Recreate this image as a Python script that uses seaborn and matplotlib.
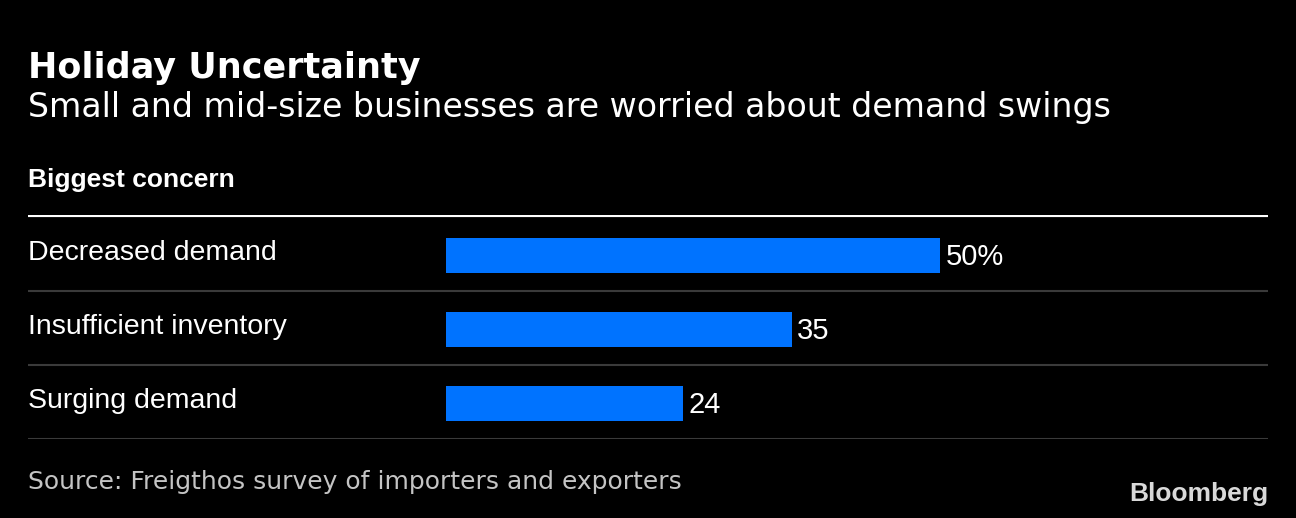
import matplotlib
matplotlib.use("Agg")
import matplotlib.pyplot as plt
import seaborn as sns
import pandas as pd

# data
concerns = ["Decreased demand", "Insufficient inventory", "Surging demand"]
shares = [50, 35, 24]
value_labels = ["50%", "35", "24"]

df = pd.DataFrame({"concern": concerns, "share": shares})

sns.set_theme(style="white")
plt.rcParams["font.family"] = ["Liberation Sans", "DejaVu Sans"]

W, H = 1296, 518
fig = plt.figure(figsize=(W / 100, H / 100), dpi=100, facecolor="black")

def px(x, y):
    return x / W, 1 - y / H

# axes covering the table area: x 28..1268, y 215..439 px
ax = fig.add_axes([28 / W, 1 - 439 / H, 1240 / W, 224 / H])
ax.set_facecolor("black")

sns.barplot(data=df, x="share", y="concern", orient="h", color="#0073ff",
            saturation=1, width=0.47, linewidth=0, ax=ax)

scale = 9.88  # px per unit
ax.set_xlim(-418 / scale, (1240 - 418) / scale)
ax.set_ylim(2.48, -0.547)

for i, (v, lab) in enumerate(zip(shares, value_labels)):
    ax.text(v + 0.55, i + 0.02, lab, color="white", fontsize=21, va="center", ha="left")
    ax.text(-418 / scale, i - 0.04, concerns[i], color="white", fontsize=20.5,
            va="center", ha="left")
    ax.axhline(i + 0.48, color="#3a3a3a", lw=1.5)

ax.axhline(-0.547, color="white", lw=3)

ax.set_xlabel("")
ax.set_ylabel("")
ax.set_xticks([])
ax.set_yticks([])
for s in ax.spines.values():
    s.set_visible(False)

fig.text(*px(28, 78), "Holiday Uncertainty", color="white", fontsize=25.2,
         fontweight="bold", family=["DejaVu Sans"], va="baseline")
fig.text(*px(28, 117), "Small and mid-size businesses are worried about demand swings",
         color="white", fontsize=23.9, family=["DejaVu Sans"], va="baseline")
fig.text(*px(28, 187), "Biggest concern", color="white", fontsize=19,
         fontweight="bold", va="baseline")
fig.text(*px(28, 489), "Source: Freigthos survey of importers and exporters",
         color="#c4c4c4", fontsize=18, family=["DejaVu Sans"], va="baseline")
fig.text(*px(1268, 501), "Bloomberg", color="#d9d9d9", fontsize=19,
         fontweight="bold", ha="right", va="baseline")

fig.savefig("out.png", dpi=100, facecolor="black")
